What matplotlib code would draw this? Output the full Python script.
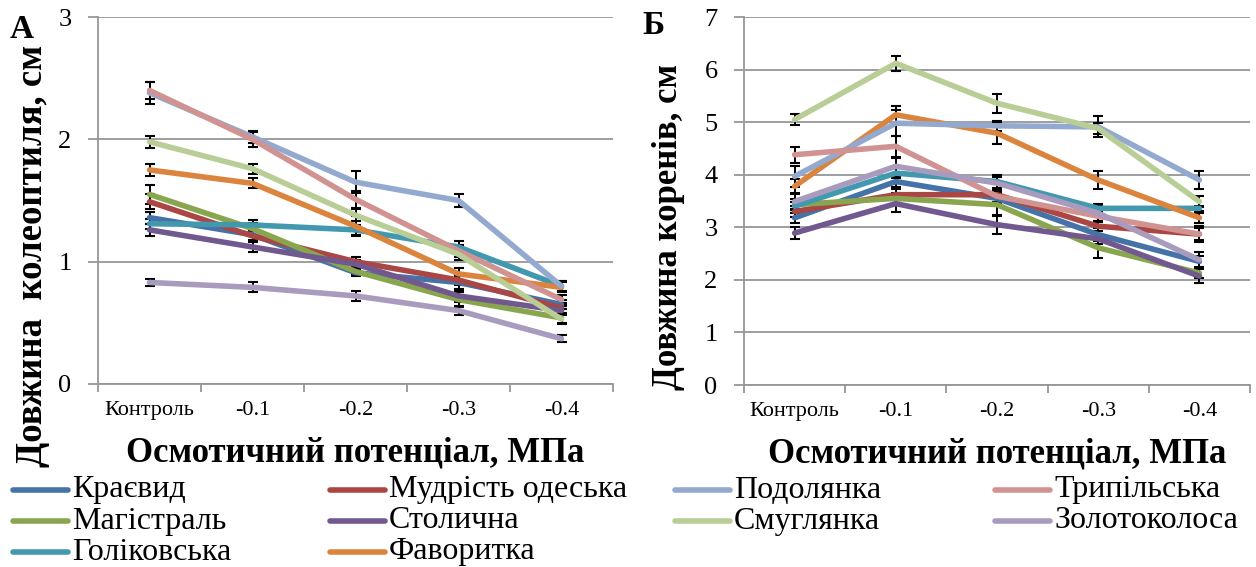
import matplotlib
matplotlib.use("Agg")
import matplotlib.pyplot as plt
from matplotlib.lines import Line2D

plt.rcParams['font.family'] = ['Liberation Serif', 'DejaVu Serif']

categories = ['Контроль', '-0.1', '-0.2', '-0.3', '-0.4']

# Excel series order (drawing order)
varieties = ['Краєвид', 'Мудрість одеська', 'Магістраль', 'Столична', 'Голіковська',
             'Фаворитка', 'Подолянка', 'Трипільська', 'Смуглянка', 'Золотоколоса']
colors = ['#4572A7', '#AA4643', '#89A54E', '#71588F', '#4198AF',
          '#DB843D', '#93A9CF', '#D19392', '#B9CD96', '#A99BBD']

# legend rows as in the original
legend_rows = [['Краєвид', 'Мудрість одеська', 'Подолянка', 'Трипільська'],
               ['Магістраль', 'Столична', 'Смуглянка', 'Золотоколоса'],
               ['Голіковська', 'Фаворитка']]

# A: coleoptile length, cm
coleoptile = {
    'Краєвид':          [1.36, 1.22, 0.91, 0.83, 0.65],
    'Мудрість одеська': [1.49, 1.21, 1.00, 0.85, 0.62],
    'Магістраль':       [1.55, 1.27, 0.92, 0.69, 0.54],
    'Столична':         [1.26, 1.12, 0.98, 0.72, 0.60],
    'Голіковська':      [1.31, 1.30, 1.26, 1.12, 0.80],
    'Фаворитка':        [1.75, 1.64, 1.29, 0.90, 0.79],
    'Подолянка':        [2.38, 2.02, 1.65, 1.50, 0.80],
    'Трипільська':      [2.40, 2.00, 1.51, 1.09, 0.69],
    'Смуглянка':        [1.98, 1.76, 1.38, 1.06, 0.53],
    'Золотоколоса':     [0.83, 0.79, 0.72, 0.60, 0.37],
}
coleoptile_err = {
    'Краєвид':          [0.05, 0.04, 0.03, 0.05, 0.04],
    'Мудрість одеська': [0.06, 0.04, 0.04, 0.04, 0.04],
    'Магістраль':       [0.08, 0.05, 0.03, 0.06, 0.04],
    'Столична':         [0.05, 0.04, 0.03, 0.05, 0.04],
    'Голіковська':      [0.04, 0.04, 0.04, 0.05, 0.04],
    'Фаворитка':        [0.05, 0.04, 0.08, 0.05, 0.04],
    'Подолянка':        [0.09, 0.05, 0.09, 0.05, 0.04],
    'Трипільська':      [0.07, 0.06, 0.07, 0.05, 0.04],
    'Смуглянка':        [0.05, 0.04, 0.05, 0.05, 0.04],
    'Золотоколоса':     [0.03, 0.04, 0.04, 0.04, 0.03],
}

# Б: root length, cm
roots = {
    'Краєвид':          [3.18, 3.87, 3.55, 2.86, 2.35],
    'Мудрість одеська': [3.30, 3.62, 3.62, 3.02, 2.87],
    'Магістраль':       [3.43, 3.55, 3.43, 2.61, 2.13],
    'Столична':         [2.89, 3.45, 3.05, 2.78, 2.07],
    'Голіковська':      [3.40, 4.03, 3.87, 3.36, 3.36],
    'Фаворитка':        [3.78, 5.14, 4.79, 3.90, 3.18],
    'Подолянка':        [3.97, 4.98, 4.93, 4.91, 3.90],
    'Трипільська':      [4.38, 4.54, 3.59, 3.21, 2.87],
    'Смуглянка':        [5.05, 6.12, 5.36, 4.88, 3.49],
    'Золотоколоса':     [3.49, 4.16, 3.84, 3.27, 2.38],
}
roots_err = {
    'Краєвид':          [0.10, 0.10, 0.10, 0.12, 0.10],
    'Мудрість одеська': [0.10, 0.10, 0.08, 0.10, 0.15],
    'Магістраль':       [0.10, 0.10, 0.19, 0.19, 0.10],
    'Столична':         [0.12, 0.15, 0.17, 0.10, 0.13],
    'Голіковська':      [0.08, 0.10, 0.12, 0.08, 0.05],
    'Фаворитка':        [0.13, 0.17, 0.20, 0.17, 0.10],
    'Подолянка':        [0.20, 0.25, 0.10, 0.20, 0.17],
    'Трипільська':      [0.15, 0.20, 0.10, 0.10, 0.12],
    'Смуглянка':        [0.10, 0.14, 0.18, 0.10, 0.10],
    'Золотоколоса':     [0.15, 0.15, 0.12, 0.15, 0.15],
}

W, H = 1256, 567
fig = plt.figure(figsize=(W / 100, H / 100), dpi=100)

grid_c = '#969696'
color_of = dict(zip(varieties, colors))


def px_axes(x0, y0, x1, y1):
    return fig.add_axes([x0 / W, 1 - y1 / H, (x1 - x0) / W, (y1 - y0) / H])


def draw_panel(ax, data, err, ymax, ylabel, ysize):
    x = list(range(len(categories)))
    for name in varieties:
        ax.errorbar(x, data[name], yerr=err[name], color=color_of[name], lw=4,
                    ecolor='black', elinewidth=1.4, capsize=3.3, capthick=1.5,
                    solid_capstyle='round', solid_joinstyle='round', zorder=3)
    ax.set_xlim(-0.5, len(categories) - 0.5)
    ax.set_ylim(0, ymax)
    ax.set_yticks(range(0, ymax + 1))
    ax.set_xticks([i - 0.5 for i in range(len(categories) + 1)])
    ax.set_xticklabels([])
    ax.set_xticks(x, minor=True)
    ax.set_xticklabels(categories, minor=True, fontsize=16)
    ax.tick_params(axis='x', which='minor', length=0, pad=12)
    ax.tick_params(axis='x', which='major', length=6, color=grid_c, width=1.3)
    ax.tick_params(axis='y', length=7, color=grid_c, width=1.3, labelsize=19, pad=12)
    ax.grid(axis='y', color=grid_c, lw=1.3)
    ax.set_axisbelow(True)
    for s in ['top', 'right']:
        ax.spines[s].set_visible(False)
    for s in ['left', 'bottom']:
        ax.spines[s].set_color(grid_c)
        ax.spines[s].set_linewidth(1.3)
    ax.set_xlabel('Осмотичний потенціал, МПа', fontsize=25, fontweight='bold')
    ax.set_ylabel(ylabel, fontsize=ysize, fontweight='bold')


ax1 = px_axes(98, 17, 613, 384)
draw_panel(ax1, coleoptile, coleoptile_err, 3, 'Довжина  колеоптиля, см', 26.5)
ax1.yaxis.set_label_coords(-0.093, 0.35)
ax1.xaxis.set_label_coords(0.5, -0.142)

ax2 = px_axes(744, 17, 1250, 385)
draw_panel(ax2, roots, roots_err, 7, 'Довжина коренів, см', 25)
ax2.yaxis.set_label_coords(-0.117, 0.43)
ax2.xaxis.set_label_coords(0.5, -0.142)

fig.text(10 / W, 1 - 29 / H, 'А', fontsize=24, fontweight='bold', va='center')
fig.text(642 / W, 1 - 26 / H, 'Б', fontsize=24, fontweight='bold', va='center')

# legend laid out like the original
col_x = [13, 330, 675, 995]
row_y = [490, 521, 552]
for ri, row in enumerate(legend_rows):
    y0 = 1 - row_y[ri] / H
    for ci, name in enumerate(row):
        x0 = col_x[ci]
        fig.add_artist(Line2D([x0 / W, (x0 + 55) / W], [y0, y0], color=color_of[name],
                              lw=4, solid_capstyle='round'))
        fig.text((x0 + 59) / W, y0, name, fontsize=23, va='center')

fig.savefig('out.png', dpi=100)
